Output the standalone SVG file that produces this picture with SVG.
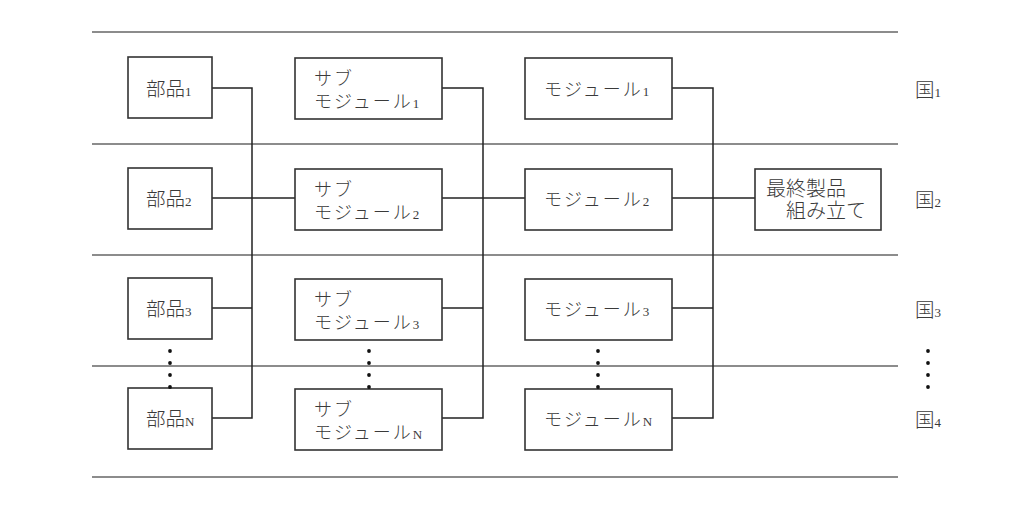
<svg xmlns="http://www.w3.org/2000/svg" width="1024" height="505" viewBox="0 0 1024 505">
<style>
.sep{stroke:#666;stroke-width:1.3;fill:none}
.box{fill:#fff;stroke:#333;stroke-width:1.6}
.con{stroke:#222;stroke-width:1.5;fill:none}
.t{font-family:"Noto Sans CJK JP","Noto Sans",sans-serif;font-size:18px;fill:#3a3a3a;font-weight:300}
.b{font-size:19.5px}
.sp{letter-spacing:2px}
.s{font-family:"Liberation Serif",serif;font-size:13px;letter-spacing:0}
.dot{fill:#111}
</style>
<rect width="1024" height="505" fill="#fff"/>
<g id="separators">
<line class="sep" x1="92" y1="32" x2="898" y2="32"/>
<line class="sep" x1="92" y1="144" x2="898" y2="144"/>
<line class="sep" x1="92" y1="255" x2="898" y2="255"/>
<line class="sep" x1="92" y1="366" x2="898" y2="366"/>
<line class="sep" x1="92" y1="477" x2="898" y2="477"/>
</g>
<g id="connectors">
<polyline class="con" points="212,88 252,88 252,418 212,418"/>
<line class="con" x1="212" y1="198" x2="295" y2="198"/>
<line class="con" x1="212" y1="308" x2="252" y2="308"/>
<polyline class="con" points="442,88 483,88 483,418 442,418"/>
<line class="con" x1="442" y1="198" x2="525" y2="198"/>
<line class="con" x1="442" y1="308" x2="483" y2="308"/>
<polyline class="con" points="672,88 713,88 713,418 672,418"/>
<line class="con" x1="672" y1="198" x2="755" y2="198"/>
<line class="con" x1="672" y1="308" x2="713" y2="308"/>
</g>
<g id="part1"><rect class="box" x="128" y="57" width="84" height="61"/><text class="t b" x="146" y="96">部品<tspan class="s">1</tspan></text></g>
<g id="part2"><rect class="box" x="128" y="168" width="84" height="61"/><text class="t b" x="146" y="206">部品<tspan class="s">2</tspan></text></g>
<g id="part3"><rect class="box" x="128" y="278" width="84" height="61"/><text class="t b" x="146" y="316">部品<tspan class="s">3</tspan></text></g>
<g id="partN"><rect class="box" x="128" y="388" width="84" height="61"/><text class="t b" x="146" y="426">部品<tspan class="s">N</tspan></text></g>
<g id="sub1"><rect class="box" x="295" y="58" width="147" height="61"/><text class="t sp" x="314" y="85">サブ<tspan x="314" dy="23">モジュール</tspan><tspan class="s">1</tspan></text></g>
<g id="sub2"><rect class="box" x="295" y="169" width="147" height="61"/><text class="t sp" x="314" y="196">サブ<tspan x="314" dy="23">モジュール</tspan><tspan class="s">2</tspan></text></g>
<g id="sub3"><rect class="box" x="295" y="279" width="147" height="61"/><text class="t sp" x="314" y="306">サブ<tspan x="314" dy="23">モジュール</tspan><tspan class="s">3</tspan></text></g>
<g id="subN"><rect class="box" x="295" y="389" width="147" height="61"/><text class="t sp" x="314" y="416">サブ<tspan x="314" dy="23">モジュール</tspan><tspan class="s">N</tspan></text></g>
<g id="mod1"><rect class="box" x="525" y="58" width="147" height="61"/><text class="t sp" x="544" y="96">モジュール<tspan class="s">1</tspan></text></g>
<g id="mod2"><rect class="box" x="525" y="169" width="147" height="61"/><text class="t sp" x="544" y="206">モジュール<tspan class="s">2</tspan></text></g>
<g id="mod3"><rect class="box" x="525" y="279" width="147" height="61"/><text class="t sp" x="544" y="316">モジュール<tspan class="s">3</tspan></text></g>
<g id="modN"><rect class="box" x="525" y="389" width="147" height="61"/><text class="t sp" x="544" y="426">モジュール<tspan class="s">N</tspan></text></g>
<g id="final"><rect class="box" x="755" y="169" width="126" height="61"/><text class="t" x="766" y="196" style="font-size:20px">最終製品<tspan x="786" dy="22">組み立て</tspan></text></g>
<g id="countries">
<text class="t b" x="915" y="97">国<tspan class="s">1</tspan></text>
<text class="t b" x="915" y="207">国<tspan class="s">2</tspan></text>
<text class="t b" x="915" y="317">国<tspan class="s">3</tspan></text>
<text class="t b" x="915" y="427">国<tspan class="s">4</tspan></text>
</g>
<g id="ellipses">
<circle class="dot" cx="170" cy="351" r="1.9"/><circle class="dot" cx="170" cy="363" r="1.9"/><circle class="dot" cx="170" cy="375" r="1.9"/><circle class="dot" cx="170" cy="387" r="1.9"/>
<circle class="dot" cx="369" cy="351" r="1.9"/><circle class="dot" cx="369" cy="363" r="1.9"/><circle class="dot" cx="369" cy="375" r="1.9"/><circle class="dot" cx="369" cy="387" r="1.9"/>
<circle class="dot" cx="598" cy="351" r="1.9"/><circle class="dot" cx="598" cy="363" r="1.9"/><circle class="dot" cx="598" cy="375" r="1.9"/><circle class="dot" cx="598" cy="387" r="1.9"/>
<circle class="dot" cx="928" cy="351" r="1.9"/><circle class="dot" cx="928" cy="363" r="1.9"/><circle class="dot" cx="928" cy="375" r="1.9"/><circle class="dot" cx="928" cy="387" r="1.9"/>
</g>
</svg>
